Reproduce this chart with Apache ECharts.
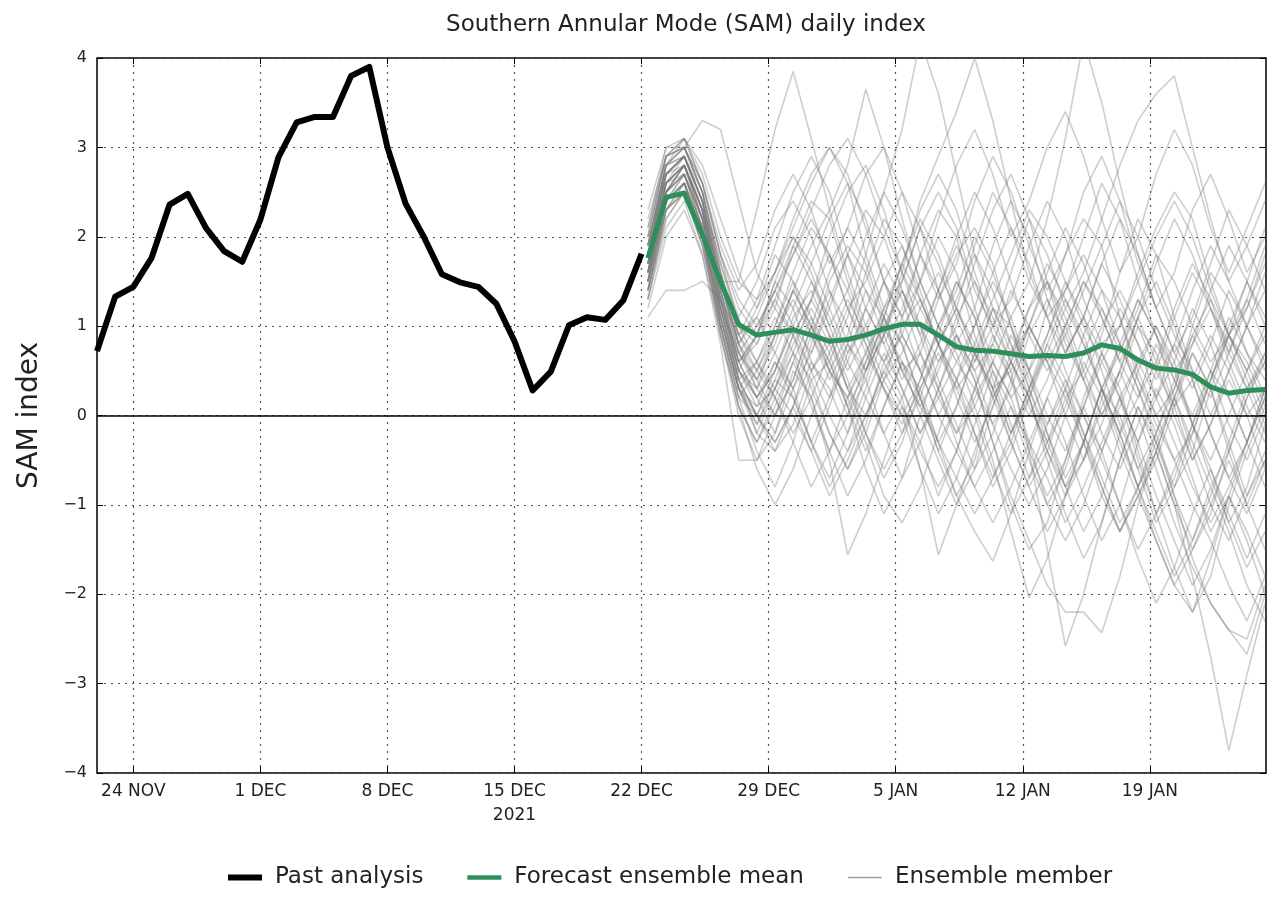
<!DOCTYPE html>
<html><head><meta charset="utf-8">
<script src="https://cdn.jsdelivr.net/npm/echarts@6/dist/echarts.min.js"></script>
<style>html,body{margin:0;padding:0;background:#fff}#c{width:1280px;height:900px}</style>
</head><body><div id="c"></div>
<script>
// x = days since 22 NOV 2021
const tickDays = [2, 9, 16, 23, 30, 37, 44, 51, 58];
const tickLabels = ['24 NOV', '1 DEC', '8 DEC', '15 DEC\n2021', '22 DEC', '29 DEC', '5 JAN', '12 JAN', '19 JAN'];
const xMin = 0, xMax = 64.4;
const pastStart = 0;
const forecastStart = 30.35;

const pastValues = [0.72, 1.33, 1.44, 1.76, 2.36, 2.48, 2.1, 1.84, 1.72, 2.19, 2.89, 3.28, 3.34, 3.34, 3.8, 3.9,
  3.0, 2.37, 2.0, 1.58, 1.49, 1.44, 1.25, 0.83, 0.28, 0.49, 1.01, 1.1, 1.07, 1.29, 1.81];

const meanValues = [1.76, 2.44, 2.49, 2.02, 1.5, 1.02, 0.9, 0.93, 0.96, 0.9, 0.83, 0.85, 0.9, 0.97, 1.02, 1.02,
  0.9, 0.77, 0.73, 0.72, 0.69, 0.66, 0.67, 0.66, 0.7, 0.79, 0.75, 0.62, 0.53, 0.51, 0.46, 0.32, 0.25, 0.28, 0.29];

const members = [
  [1.8,2.7,2.9,2.3,1.4,0.6,0.2,0.5,1.1,1.4,0.9,0.3,0.0,0.4,1.0,1.3,0.8,0.2,-0.3,0.1,0.7,1.2,1.5,1.0,0.4,-0.2,-0.6,-0.1,0.5,1.1,1.6,1.2,0.6,0.1,-0.3],
  [1.5,2.4,2.6,2.0,1.2,0.4,-0.2,-0.4,0.1,0.8,1.5,1.9,1.6,1.0,0.5,0.7,1.3,1.8,2.1,1.7,1.0,0.3,-0.3,-0.8,-0.5,0.2,0.8,1.3,0.9,0.2,-0.4,-1.0,-1.4,-0.9,-0.4],
  [2.0,2.9,3.0,2.6,1.8,1.0,0.8,1.2,1.9,2.4,2.2,1.5,0.9,0.6,1.1,1.8,2.3,2.0,1.2,0.6,0.2,0.5,1.2,1.8,2.2,1.9,1.1,0.4,0.0,0.3,1.0,1.6,1.3,0.7,0.4],
  [1.3,2.2,2.5,1.9,1.0,0.2,-0.4,-0.8,-0.3,0.4,0.6,0.1,-0.6,-1.1,-0.7,0.0,0.6,0.9,0.4,-0.3,-1.0,-1.5,-1.2,-0.5,0.2,0.7,0.3,-0.4,-1.1,-1.7,-2.2,-1.8,-1.0,-0.4,0.1],
  [1.9,2.8,3.1,2.7,2.0,1.5,1.3,1.6,2.2,2.7,3.0,2.6,1.8,1.2,1.5,2.1,2.5,2.1,1.4,1.0,1.3,1.9,2.4,2.0,1.3,0.8,1.0,1.6,2.1,2.5,2.2,1.5,0.9,1.2,1.8],
  [1.6,2.5,2.7,2.1,1.1,0.3,0.0,0.4,0.2,-0.3,-0.7,-0.2,0.5,1.1,0.8,0.2,-0.4,-0.9,-0.5,0.3,0.9,0.5,-0.2,-0.8,-1.3,-0.9,-0.2,0.5,1.0,0.6,-0.1,-0.7,-1.2,-0.8,-0.1],
  [1.1,1.4,1.4,1.5,1.3,0.9,1.1,1.6,2.0,1.7,1.2,0.7,1.0,1.5,1.9,1.4,0.8,0.3,0.6,1.2,1.0,0.4,-0.1,0.3,0.9,1.4,1.1,0.5,0.0,-0.5,-0.2,0.4,0.9,0.6,0.1],
  [2.1,3.0,3.0,3.3,3.2,2.4,1.6,1.2,0.9,1.3,2.0,2.5,2.8,2.3,1.6,1.0,0.6,1.0,1.7,2.3,2.7,2.2,1.5,0.8,0.4,0.9,1.6,2.2,1.8,1.1,0.5,0.2,0.7,1.3,1.9],
  [1.7,2.6,2.8,2.2,1.5,1.5,2.3,3.2,3.85,3.1,2.3,1.6,1.0,0.6,0.9,1.5,2.0,1.6,0.9,0.3,-0.2,0.2,0.8,1.3,0.9,0.3,-0.3,-0.8,-0.4,0.2,0.8,1.2,0.8,0.3,-0.2],
  [1.4,2.3,2.6,2.0,0.9,0.0,-0.5,-0.2,0.5,0.2,-0.5,-1.56,-1.1,-0.5,0.1,-0.3,-0.9,-0.4,0.3,0.8,0.4,-0.3,-1.0,-0.6,0.1,0.6,0.2,-0.5,-1.1,-0.7,-0.1,0.5,0.2,-0.3,-0.8],
  [1.8,2.7,2.8,2.2,1.3,0.5,0.3,0.9,1.4,1.0,0.6,1.1,1.8,2.5,3.2,4.2,3.6,2.7,1.8,1.2,0.7,1.0,1.5,1.1,0.5,0.0,0.4,1.0,0.7,0.1,-0.5,-0.1,0.5,1.0,0.6],
  [1.5,2.4,2.7,2.1,1.0,0.1,-0.3,0.2,0.7,0.4,-0.2,-0.6,-0.1,0.6,0.2,-0.6,-1.56,-1.0,-0.4,0.2,0.6,0.2,-0.5,-1.1,-1.6,-1.2,-0.5,0.1,-0.4,-1.0,-1.5,-1.1,-0.4,0.2,0.6],
  [2.2,2.9,3.0,2.5,1.7,1.1,1.5,2.1,2.4,2.0,1.4,0.8,0.5,0.9,1.6,2.4,2.9,3.4,4.0,3.3,2.4,1.6,1.1,1.4,2.0,2.6,2.2,1.5,0.9,0.5,0.8,1.4,1.9,1.5,1.0],
  [1.3,2.1,2.4,1.8,0.8,-0.5,-0.5,0.0,0.6,1.1,0.7,0.1,-0.4,0.1,0.6,0.3,-0.3,-0.9,-1.3,-1.63,-1.1,-0.4,0.2,-0.3,-0.9,-1.4,-1.0,-0.3,0.3,-0.1,-0.7,-1.3,-0.9,-0.3,0.2],
  [1.9,2.8,2.9,2.4,1.6,0.9,0.6,0.3,0.7,1.3,1.8,1.4,0.8,0.3,0.0,0.4,1.0,0.7,0.1,-0.5,-1.3,-2.04,-1.6,-0.9,-0.3,0.3,0.0,-0.6,-1.2,-0.8,-0.2,0.4,0.9,0.5,0.0],
  [1.6,2.5,2.7,2.2,1.3,0.6,0.9,1.5,1.2,0.6,0.2,0.6,1.2,1.7,1.3,0.7,0.2,-0.2,0.3,0.9,0.5,-0.4,-1.5,-2.58,-2.0,-1.2,-0.5,0.1,-0.3,-0.9,-1.4,-0.9,-0.3,0.3,0.7],
  [1.7,2.6,2.8,2.3,1.4,0.7,0.4,0.8,1.4,1.9,2.3,2.8,3.65,3.0,2.2,1.5,1.0,1.4,2.0,1.6,1.0,0.5,0.9,1.5,1.1,0.5,-0.1,-0.6,-0.2,0.4,0.9,0.5,-0.1,-0.5,0.0],
  [1.4,2.3,2.5,1.9,1.0,0.3,0.1,0.6,0.3,-0.3,-0.8,-0.4,0.2,0.7,0.3,-0.2,0.3,0.8,0.4,-0.3,-0.9,-1.4,-1.9,-2.2,-2.2,-2.43,-1.8,-1.0,-0.4,0.2,0.7,0.3,-0.4,-1.0,-0.5],
  [1.8,2.7,2.9,2.4,1.5,0.8,1.2,1.8,1.5,0.9,0.5,0.9,1.6,2.2,1.9,1.3,0.8,1.2,1.9,2.5,2.1,1.5,2.2,3.1,4.2,3.5,2.6,1.8,1.2,0.7,1.1,1.7,2.3,1.9,1.4],
  [1.6,2.5,2.8,2.3,1.4,0.6,0.2,-0.2,0.3,0.9,1.4,1.0,0.5,0.9,1.5,2.1,1.7,1.1,0.6,1.0,1.6,2.2,1.8,1.2,1.6,2.2,2.8,3.3,3.6,3.8,3.0,2.2,1.5,1.9,2.4],
  [1.5,2.4,2.6,2.0,1.1,0.4,0.0,-0.4,-0.1,0.5,0.9,0.4,-0.2,-0.7,-0.3,0.3,0.8,0.4,-0.2,-0.8,-0.4,0.2,0.7,0.3,-0.3,-0.8,-1.3,-0.9,-0.4,-1.0,-1.8,-2.7,-3.75,-2.9,-2.1],
  [1.7,2.6,2.8,2.2,1.2,0.4,0.6,1.1,0.7,0.1,-0.4,0.0,0.6,1.0,0.6,0.0,-0.5,-1.0,-0.6,0.1,0.6,0.2,-0.4,-0.9,-0.5,0.1,0.5,0.0,-0.6,-1.2,-1.7,-2.1,-2.4,-2.67,-2.0],
  [1.9,2.8,3.0,2.5,1.6,0.8,0.3,0.0,0.4,1.0,1.6,2.1,1.7,1.1,0.5,0.1,-0.3,0.1,0.7,1.2,0.8,0.2,-0.4,-0.8,-0.3,0.3,-0.2,-0.8,-1.4,-1.9,-2.2,-1.6,-0.9,-1.3,-1.8],
  [1.4,2.2,2.5,2.0,1.1,0.3,-0.2,0.3,0.9,1.3,0.9,0.3,-0.2,-0.6,-0.2,0.4,1.0,1.5,1.1,0.5,-0.1,-0.7,-0.3,0.3,-0.2,-0.8,-1.3,-0.8,-0.2,-0.9,-1.6,-2.1,-2.4,-2.5,-1.9],
  [2.0,2.9,3.1,2.6,1.8,1.2,0.9,1.3,1.8,2.2,1.8,1.2,1.5,2.0,2.5,2.1,1.4,0.9,0.5,0.8,1.4,1.0,0.6,1.0,1.5,1.2,0.7,1.2,1.8,1.5,1.0,0.6,0.9,1.5,2.1],
  [1.6,2.5,2.8,2.3,1.3,0.5,0.1,0.3,0.0,-0.4,0.1,0.7,1.2,0.8,0.3,-0.2,0.2,0.6,0.3,-0.1,0.3,0.9,1.3,0.9,0.4,0.0,0.5,1.1,0.6,0.0,-0.5,-0.1,0.4,0.0,-0.6],
  [1.8,2.6,2.7,2.1,1.2,0.7,1.0,1.4,1.0,0.5,0.8,1.3,0.9,0.4,0.7,1.2,1.6,1.2,0.7,0.3,0.5,1.0,0.6,0.2,0.5,1.0,1.4,1.0,0.5,0.1,0.4,0.9,0.5,0.0,0.3],
  [1.5,2.4,2.6,2.0,1.0,0.2,0.5,1.0,1.5,1.1,0.5,0.0,0.4,1.0,1.4,0.9,0.3,-0.2,0.1,0.6,1.1,1.5,1.1,0.5,0.0,-0.4,0.1,0.6,1.0,0.5,-0.1,-0.5,0.0,0.5,1.0],
  [1.7,2.7,2.9,2.4,1.5,0.8,0.5,0.9,1.3,0.9,0.4,0.8,1.4,1.1,0.5,0.1,0.5,1.1,1.5,1.1,0.6,0.1,-0.3,0.1,0.7,1.2,0.8,0.3,-0.2,0.3,0.9,1.3,0.9,0.4,-0.1],
  [1.3,2.3,2.6,2.1,1.1,0.3,-0.1,0.4,0.9,0.5,0.0,-0.4,0.0,0.5,0.9,0.5,0.0,-0.4,-0.8,-0.4,0.1,-0.3,-0.7,-1.2,-0.8,-0.3,0.2,0.6,0.2,-0.3,-0.8,-1.2,-0.8,-0.3,0.3],
  [1.9,2.8,3.0,2.6,1.9,1.4,1.7,2.3,2.7,2.3,1.7,2.1,2.7,3.0,2.5,1.8,1.3,1.7,2.4,2.9,2.5,1.9,1.4,1.8,2.5,2.9,2.4,1.7,1.2,1.6,2.3,2.7,2.2,1.6,2.0],
  [2.3,3.0,3.1,2.8,2.2,1.6,1.2,1.6,2.1,2.6,3.0,2.7,2.1,1.5,1.1,1.5,2.2,2.8,3.2,2.7,2.0,2.4,3.0,3.4,2.9,2.2,1.6,2.0,2.7,3.2,2.8,2.1,1.6,2.1,2.6],
  [1.7,2.6,2.9,2.4,1.5,0.7,0.3,0.7,1.2,1.7,2.2,2.6,2.2,1.5,0.9,0.5,0.9,1.5,1.1,0.4,-0.2,0.3,0.9,1.4,1.8,1.4,0.8,0.3,-0.3,-0.8,-0.4,0.3,0.9,1.3,0.8],
  [1.5,2.3,2.5,1.9,0.9,0.1,-0.6,-1.0,-0.6,0.0,0.5,0.2,-0.3,-0.9,-1.2,-0.8,-0.2,0.4,0.0,-0.6,-1.1,-0.7,-0.1,0.4,0.0,-0.5,-1.0,-1.5,-1.1,-0.6,-0.1,-0.6,-1.2,-1.7,-1.3],
  [1.8,2.8,3.0,2.5,1.7,1.0,0.6,1.0,1.6,2.1,1.8,1.2,0.7,1.1,1.7,2.3,2.7,2.3,1.6,1.0,0.6,1.0,1.6,2.1,1.7,1.1,0.6,0.2,0.6,1.2,1.7,1.3,0.7,0.3,0.6],
  [1.6,2.5,2.7,2.2,1.2,0.4,0.0,-0.3,0.1,0.6,0.3,-0.2,0.3,0.9,1.4,1.0,0.4,-0.1,-0.6,-0.2,0.4,1.0,0.6,0.0,-0.5,-0.1,0.5,1.1,1.5,1.0,0.4,-0.2,-0.7,-0.3,0.3],
  [1.4,2.4,2.7,2.2,1.3,0.6,0.8,1.3,0.9,0.3,-0.2,-0.6,-0.2,0.4,0.0,-0.6,-1.1,-0.7,-0.1,0.5,0.1,-0.5,-1.0,-1.4,-1.0,-0.4,0.2,-0.3,-0.9,-1.4,-1.9,-1.5,-0.9,-1.4,-2.0],
  [2.0,2.9,3.0,2.5,1.6,0.9,1.3,1.9,2.5,2.9,2.5,1.8,1.2,0.8,1.2,1.8,1.4,0.8,1.2,1.9,2.4,2.0,1.3,0.7,1.1,1.7,2.2,1.8,1.2,0.7,0.3,0.8,1.4,1.0,0.5],
  [1.6,2.5,2.8,2.3,1.4,0.5,0.2,0.6,0.2,-0.3,0.2,0.8,0.4,-0.2,-0.7,-0.3,0.3,0.9,0.5,-0.1,-0.6,-1.0,-0.6,0.0,0.6,0.2,-0.4,-0.9,-0.5,0.1,0.7,0.3,-0.3,-0.9,-0.5],
  [1.8,2.7,2.9,2.4,1.4,0.6,0.9,1.5,2.0,1.6,1.0,0.5,0.9,1.5,1.1,0.5,0.0,0.4,1.0,1.5,1.1,0.5,0.0,-0.4,0.1,0.7,1.2,0.8,0.2,0.6,1.2,0.8,0.2,-0.3,0.2],
  [1.2,2.0,2.3,1.8,0.9,0.1,-0.3,0.1,0.6,0.2,-0.4,-0.9,-0.5,0.1,0.6,0.2,-0.4,0.1,0.7,0.3,-0.3,-0.8,-1.3,-0.9,-0.3,0.3,-0.2,-0.8,-1.3,-1.8,-1.4,-0.8,-1.3,-1.9,-2.3],
  [1.7,2.6,2.8,2.3,1.5,0.8,0.4,0.0,0.4,1.0,0.6,0.1,0.5,1.1,1.7,2.2,1.8,1.2,0.7,0.2,0.6,1.2,1.7,1.3,0.8,0.3,-0.2,0.2,0.8,0.4,-0.1,0.4,1.0,1.5,1.1],
  [1.9,2.8,2.9,2.5,1.6,0.9,0.5,0.2,-0.2,0.2,0.7,1.2,0.8,0.3,-0.1,0.3,0.7,0.3,-0.2,-0.7,-0.3,0.3,0.8,0.4,-0.2,-0.7,-1.2,-0.8,-0.3,0.2,-0.3,-0.8,-0.4,0.2,0.7],
  [1.5,2.4,2.6,2.1,1.2,0.5,0.9,1.4,1.8,2.3,2.8,3.1,2.7,2.1,1.6,1.2,0.8,0.4,0.8,1.3,1.8,2.3,2.0,1.5,1.0,0.6,1.0,1.5,2.0,2.4,2.0,1.4,0.9,0.5,0.9],
  [1.6,2.5,2.7,2.2,1.2,0.3,-0.1,0.3,0.8,1.2,0.8,0.3,0.7,1.2,0.8,0.2,-0.3,-0.7,-1.1,-0.7,-0.2,0.3,-0.2,-0.7,-0.3,0.3,0.8,0.4,-0.1,-0.5,-1.0,-1.4,-1.9,-2.3,-1.8],
  [1.8,2.7,2.9,2.4,1.5,0.7,0.4,0.9,1.4,1.0,0.5,0.2,0.6,1.2,1.7,1.3,0.8,1.3,1.8,1.4,0.8,0.3,0.7,1.2,0.8,0.3,0.7,1.3,0.9,0.4,0.0,0.5,1.1,0.7,0.2],
  [1.4,2.3,2.5,2.0,1.0,0.2,0.0,0.5,1.0,1.5,1.1,0.6,0.2,-0.2,0.2,0.7,0.3,-0.3,-0.8,-1.2,-0.8,-0.3,0.2,0.7,1.1,0.7,0.2,-0.3,0.2,0.8,0.4,-0.2,-0.7,-1.1,-0.6],
  [2.1,2.9,3.1,2.6,1.8,1.3,1.0,1.4,1.9,1.5,1.0,1.4,2.0,2.5,2.1,1.5,1.0,0.6,1.0,1.6,2.1,1.7,1.1,0.7,1.1,1.7,1.3,0.8,0.4,0.8,1.4,1.9,1.5,1.0,1.4],
  [1.6,2.4,2.6,2.1,1.1,0.3,0.6,0.2,-0.3,-0.8,-0.4,0.2,0.7,0.3,-0.2,0.2,0.8,1.2,0.8,0.2,-0.3,-0.8,-0.4,0.2,-0.3,-0.9,-1.3,-0.9,-1.4,-1.9,-1.5,-1.0,-0.5,-1.0,-1.5],
  [1.7,2.6,2.8,2.3,1.3,0.5,0.2,0.5,1.0,0.7,1.2,1.8,2.3,2.0,1.4,0.9,1.4,2.0,2.5,2.1,1.5,0.9,0.5,0.9,1.4,1.9,2.4,2.0,1.4,0.9,0.5,0.0,0.5,1.0,1.6],
  [1.5,2.5,2.8,2.3,1.3,0.4,0.0,-0.3,0.1,-0.4,-0.9,-0.5,0.0,0.5,0.1,-0.4,-0.8,-0.4,0.2,0.6,0.2,-0.4,-0.9,-0.5,0.1,-0.4,-1.0,-1.6,-2.1,-1.7,-1.1,-0.6,-1.1,-1.6,-1.1],
  [1.9,2.7,2.9,2.4,1.5,0.8,1.1,0.7,0.3,0.7,1.3,1.8,1.4,0.9,0.4,0.8,1.4,1.9,1.5,0.9,0.4,0.0,0.4,1.0,1.5,1.1,0.6,1.1,1.7,2.2,1.8,1.2,0.7,1.2,1.7]
];

const FONT = 'DejaVu Sans';
const GREEN = '#2e8f5a';
const series = [];
members.forEach(function (m) {
  series.push({
    type: 'line', name: 'Ensemble member', xAxisIndex: 0, yAxisIndex: 0,
    data: m.map(function (v, n) { return [forecastStart + n, v]; }),
    symbol: 'none', silent: true, z: 2,
    lineStyle: { color: 'rgba(120,120,120,0.36)', width: 1.6 },
    itemStyle: { color: '#a0a0a0' }
  });
});
series.push({
  type: 'line', name: 'Past analysis', xAxisIndex: 0, yAxisIndex: 0,
  data: pastValues.map(function (v, i) { return [pastStart + i, v]; }),
  symbol: 'none', z: 5,
  lineStyle: { color: '#000', width: 6, join: 'round' },
  itemStyle: { color: '#000' },
  markLine: {
    symbol: 'none', silent: true, animation: false,
    label: { show: false },
    lineStyle: { color: '#000', width: 1.6, type: 'solid' },
    data: [{ yAxis: 0 }]
  }
});
series.push({
  type: 'line', name: 'Forecast ensemble mean', xAxisIndex: 0, yAxisIndex: 0,
  data: meanValues.map(function (v, n) { return [forecastStart + n, v]; }),
  symbol: 'none', z: 6,
  lineStyle: { color: GREEN, width: 5, join: 'round' },
  itemStyle: { color: GREEN }
});

const gridLineStyle = { color: '#555', width: 1.2, type: [2, 5] };
const option = {
  animation: false,
  backgroundColor: '#fff',
  textStyle: { fontFamily: FONT },
  title: {
    text: 'Southern Annular Mode (SAM) daily index',
    left: 681, top: 9, textAlign: 'center',
    textStyle: { fontFamily: FONT, fontSize: 23, fontWeight: 'normal', color: '#222' }
  },
  legend: {
    left: 223, top: 861, itemGap: 44, itemWidth: 34, itemHeight: 14,
    textStyle: { fontFamily: FONT, fontSize: 23, color: '#222', padding: [0, 0, 0, 8] },
    data: [
      { name: 'Past analysis', icon: 'path://M0,0H34V6H0Z' },
      { name: 'Forecast ensemble mean', icon: 'path://M0,0H34V4.5H0Z' },
      { name: 'Ensemble member', icon: 'path://M0,0H28V1.2H0Z' }
    ]
  },
  grid: {
    left: 97, right: 14, top: 58, bottom: 127,
    show: true, borderColor: '#000', borderWidth: 1.5, backgroundColor: 'transparent'
  },
  xAxis: [{
    type: 'value', min: xMin, max: xMax, position: 'bottom',
    axisLine: { show: false, onZero: false },
    axisTick: { show: true, inside: true, length: 6, customValues: tickDays, lineStyle: { color: '#000' } },
    axisLabel: {
      customValues: tickDays, margin: 7, fontFamily: FONT, fontSize: 17, color: '#222', lineHeight: 24,
      formatter: function (v) { const i = tickDays.indexOf(Math.round(v)); return i >= 0 ? tickLabels[i] : ''; }
    },
    splitLine: { show: true, lineStyle: gridLineStyle }
  }, {
    type: 'value', min: xMin, max: xMax, position: 'top',
    axisLine: { show: false, onZero: false },
    axisTick: { show: true, inside: true, length: 6, customValues: tickDays, lineStyle: { color: '#000' } },
    axisLabel: { show: false },
    splitLine: { show: false }
  }],
  yAxis: [{
    type: 'value', min: -4, max: 4, interval: 1, position: 'left',
    name: 'SAM index', nameLocation: 'middle', nameGap: 53,
    nameTextStyle: { fontFamily: FONT, fontSize: 28, color: '#222' },
    axisLine: { show: false, onZero: false },
    axisTick: { show: true, inside: true, length: 6, lineStyle: { color: '#000' } },
    axisLabel: {
      margin: 10, fontFamily: FONT, fontSize: 16, color: '#222',
      formatter: function (v) { return v < 0 ? '\u2212' + Math.abs(v) : String(v); }
    },
    splitLine: { show: true, lineStyle: gridLineStyle }
  }, {
    type: 'value', min: -4, max: 4, interval: 1, position: 'right',
    axisLine: { show: false, onZero: false },
    axisTick: { show: true, inside: true, length: 6, lineStyle: { color: '#000' } },
    axisLabel: { show: false },
    splitLine: { show: false }
  }],
  series: series
};
const chart = echarts.init(document.getElementById('c'), null, { renderer: 'canvas' });
chart.setOption(option);
</script>
</body></html>
